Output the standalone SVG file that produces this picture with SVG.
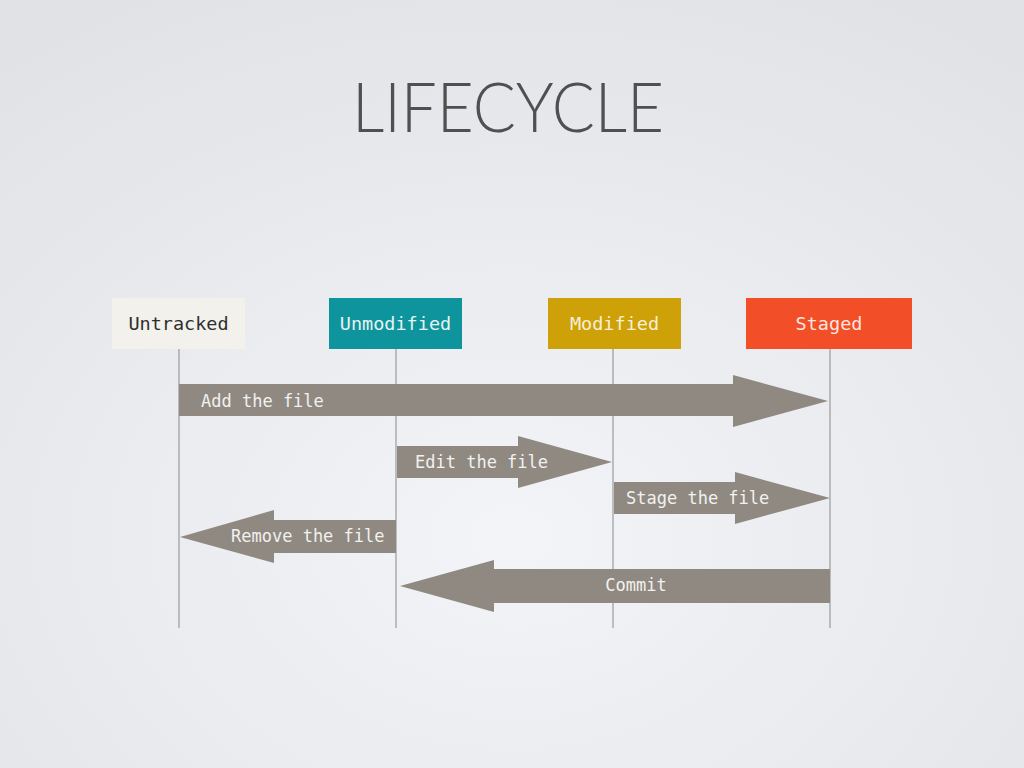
<svg xmlns="http://www.w3.org/2000/svg" width="1024" height="768" viewBox="0 0 1024 768">
<defs>
<radialGradient id="bg" cx="0.5" cy="0.7" r="0.8">
<stop offset="0" stop-color="#f3f4f7"/>
<stop offset="1" stop-color="#e0e2e6"/>
</radialGradient>
<style>
.node-label{font-family:"DejaVu Sans Mono","Liberation Mono",monospace;font-size:18.5px;text-anchor:middle}
.arrow{fill:#8f8982}
.arrow-label{font-family:"DejaVu Sans Mono","Liberation Mono",monospace;font-size:17px;fill:#f2f1ee}
.lifeline{stroke:#9a9a9a;stroke-width:1.2;fill:none}
</style>
</defs>
<rect width="1024" height="768" fill="url(#bg)"/>
<text x="508" y="132" font-family="Lato,'Open Sans',sans-serif" font-weight="300" font-size="68" fill="#505050" text-anchor="middle" textLength="312" lengthAdjust="spacingAndGlyphs">LIFECYCLE</text>

<g id="lifelines">
<line class="lifeline" x1="179" y1="349" x2="179" y2="628"/>
<line class="lifeline" x1="396" y1="349" x2="396" y2="628"/>
<line class="lifeline" x1="613" y1="349" x2="613" y2="628"/>
<line class="lifeline" x1="830" y1="349" x2="830" y2="628"/>
</g>

<g id="node-untracked">
<rect x="112" y="298" width="133" height="51" fill="#f2f1eb"/>
<text class="node-label" x="178.5" y="330" fill="#2e2e2e">Untracked</text>
</g>
<g id="node-unmodified">
<rect x="329" y="298" width="133" height="51" fill="#0e949c"/>
<text class="node-label" x="395.5" y="330" fill="#e6f2f2">Unmodified</text>
</g>
<g id="node-modified">
<rect x="548" y="298" width="133" height="51" fill="#cea109"/>
<text class="node-label" x="614.5" y="330" fill="#f7efd8">Modified</text>
</g>
<g id="node-staged">
<rect x="746" y="298" width="166" height="51" fill="#f24e28"/>
<text class="node-label" x="829" y="330" fill="#fde6df">Staged</text>
</g>

<g id="connectors">
<g id="add">
<path class="arrow" d="M179,384 H733 V375 L828,401 L733,427 V416 H179 Z"/>
<text class="arrow-label" x="201" y="407">Add the file</text>
</g>
<g id="edit">
<path class="arrow" d="M397,446 H518 V436 L612,462 L518,488 V478 H397 Z"/>
<text class="arrow-label" x="415" y="468">Edit the file</text>
</g>
<g id="stage">
<path class="arrow" d="M614,482 H735 V472 L830,498 L735,524 V514 H614 Z"/>
<text class="arrow-label" x="626" y="504">Stage the file</text>
</g>
<g id="remove">
<path class="arrow" d="M396,520 H274 V510 L180,537 L274,563 V553 H396 Z"/>
<text class="arrow-label" x="231" y="542">Remove the file</text>
</g>
<g id="commit">
<path class="arrow" d="M830,569 H494 V560 L400,586 L494,612 V603 H830 Z"/>
<text class="arrow-label" x="636" y="591" text-anchor="middle">Commit</text>
</g>
</g>
</svg>
